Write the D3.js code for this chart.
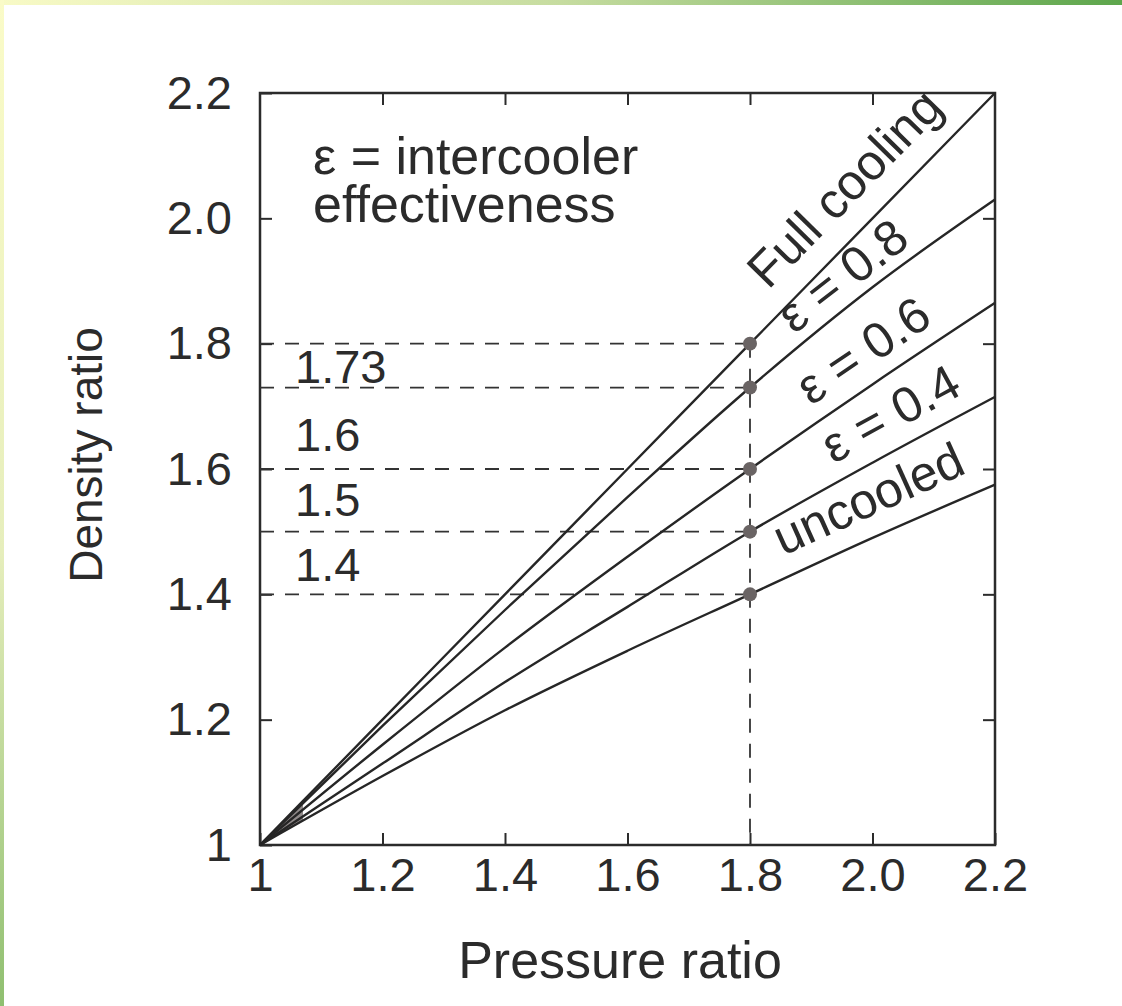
<!DOCTYPE html>
<html>
<head>
<meta charset="utf-8">
<title>Density ratio vs pressure ratio</title>
<script src="https://d3js.org/d3.v7.min.js"></script>
<style>
  html, body { margin: 0; padding: 0; background: #fff; }
  svg { display: block; }
  text { font-family: "Liberation Sans", Arial, Helvetica, sans-serif; fill: #2b2b2b; }
</style>
</head>
<body>
<div id="chart"></div>
<script>
// ---- data ----
const pressure    = [1, 1.2, 1.4, 1.6, 1.8, 2.0, 2.2];
const fullCooling = [1, 1.2, 1.4, 1.6, 1.8, 2.0, 2.2];
const eps08       = [1, 1.19, 1.375, 1.555, 1.73, 1.89, 2.03];
const eps06       = [1, 1.16, 1.315, 1.46, 1.6, 1.735, 1.865];
const eps04       = [1, 1.13, 1.26, 1.38, 1.5, 1.61, 1.715];
const uncooled    = [1, 1.11, 1.215, 1.31, 1.4, 1.49, 1.575];
const seriesNames = ["Full cooling", "\u03b5 = 0.8", "\u03b5 = 0.6", "\u03b5 = 0.4", "uncooled"];

const markPressure = 1.8;
const markValues   = [1.8, 1.73, 1.6, 1.5, 1.4];
const markLabels   = ["", "1.73", "1.6", "1.5", "1.4"];

const xTicks = [1, 1.2, 1.4, 1.6, 1.8, 2.0, 2.2];
const xTickLabels = ["1", "1.2", "1.4", "1.6", "1.8", "2.0", "2.2"];
const yTicks = [1, 1.2, 1.4, 1.6, 1.8, 2.0, 2.2];
const yTickLabels = ["1", "1.2", "1.4", "1.6", "1.8", "2.0", "2.2"];
const noteLines = ["\u03b5 = intercooler", "effectiveness"];

// ---- layout ----
const W = 1122, H = 1006;
const pl = 260, pr = 995, pt = 93, pb = 845;
// where each curve label starts (pressure) and how far above its line
const labelPos = [
  { p: 1.858, off: 24 },
  { p: 1.885, off: 13 },
  { p: 1.915, off: 17 },
  { p: 1.95,  off: 18 },
  { p: 1.868, off: 21 }
];
// vertical shift of the value labels above their dashed line
const valShift = [0, -5, -18, -16, -13];

const svg = d3.select("#chart").append("svg")
    .attr("width", W)
    .attr("height", H);

// green slide frame (top and left edge)
const defs = svg.append("defs");
const gTop = defs.append("linearGradient").attr("id", "gtop")
    .attr("x1", 0).attr("x2", 1).attr("y1", 0).attr("y2", 0);
gTop.append("stop").attr("offset", "0%").attr("stop-color", "#f8fac6");
gTop.append("stop").attr("offset", "50%").attr("stop-color", "#c6dca0");
gTop.append("stop").attr("offset", "100%").attr("stop-color", "#5da64c");
const gLeft = defs.append("linearGradient").attr("id", "gleft")
    .attr("x1", 0).attr("x2", 0).attr("y1", 0).attr("y2", 1);
gLeft.append("stop").attr("offset", "0%").attr("stop-color", "#fafbc8");
gLeft.append("stop").attr("offset", "55%").attr("stop-color", "#e6eebc");
gLeft.append("stop").attr("offset", "100%").attr("stop-color", "#8fbf70");

svg.append("rect").attr("x", 0).attr("y", 0).attr("width", W).attr("height", 5).attr("fill", "url(#gtop)");
svg.append("rect").attr("x", 0).attr("y", 0).attr("width", 4).attr("height", H).attr("fill", "url(#gleft)");

const x = d3.scaleLinear().domain([1, 2.2]).range([pl, pr]);
const y = d3.scaleLinear().domain([1, 2.2]).range([pb, pt]);

// axes with inward ticks
function styleAxis(g) {
  g.select(".domain").remove();
  g.selectAll(".tick line").attr("stroke", "#2b2b2b").attr("stroke-width", 2);
  g.selectAll(".tick text").attr("fill", "#2b2b2b").style("font-size", "47px")
    .style("font-family", "'Liberation Sans', Arial, sans-serif");
}
const innerX = xTicks.slice(1, -1), innerY = yTicks.slice(1, -1);

svg.append("g").attr("transform", "translate(0," + pb + ")")
  .call(d3.axisBottom(x).tickValues(xTicks).tickSize(-12).tickPadding(13)
    .tickFormat((d, i) => xTickLabels[i]))
  .call(styleAxis);
svg.append("g").attr("transform", "translate(" + pl + ",0)")
  .call(d3.axisLeft(y).tickValues(yTicks).tickSize(-12).tickPadding(28)
    .tickFormat((d, i) => yTickLabels[i]))
  .call(styleAxis);
svg.append("g").attr("transform", "translate(0," + pt + ")")
  .call(d3.axisTop(x).tickValues(innerX).tickSize(-12).tickFormat(""))
  .call(styleAxis);
svg.append("g").attr("transform", "translate(" + pr + ",0)")
  .call(d3.axisRight(y).tickValues(innerY).tickSize(-12).tickFormat(""))
  .call(styleAxis);

// frame
svg.append("rect")
  .attr("x", pl).attr("y", pt)
  .attr("width", pr - pl).attr("height", pb - pt)
  .attr("fill", "none").attr("stroke", "#2b2b2b").attr("stroke-width", 2.5);

// dashed reference lines at pressure 1.8
svg.selectAll("line.hdash").data(markValues).enter()
  .append("line").attr("class", "hdash")
  .attr("x1", x(1)).attr("x2", x(markPressure))
  .attr("y1", d => y(d)).attr("y2", d => y(d))
  .attr("stroke", "#333").attr("stroke-width", 1.8)
  .attr("stroke-dasharray", "14,11");
svg.append("line")
  .attr("x1", x(markPressure)).attr("x2", x(markPressure))
  .attr("y1", y(markValues[0])).attr("y2", y(1))
  .attr("stroke", "#333").attr("stroke-width", 1.8)
  .attr("stroke-dasharray", "14,11");

// curves
const series = [fullCooling, eps08, eps06, eps04, uncooled];
const line = d3.line()
  .x((d, i) => x(pressure[i]))
  .y(d => y(d))
  .curve(d3.curveMonotoneX);

// grey smudge where the curves meet at the origin
defs.append("clipPath").attr("id", "origin-clip")
  .append("rect").attr("x", pl).attr("y", pt)
  .attr("width", x(1.07) - pl).attr("height", pb - pt);
const fan = d3.area()
  .x((d, i) => x(pressure[i]))
  .y0((d, i) => y(uncooled[i]))
  .y1(d => y(d))
  .curve(d3.curveMonotoneX);
svg.append("path")
  .attr("d", fan(fullCooling))
  .attr("clip-path", "url(#origin-clip)")
  .attr("fill", "#7d7575")
  .attr("opacity", 0.85);

svg.selectAll("path.curve").data(series).enter()
  .append("path").attr("class", "curve")
  .attr("d", d => line(d))
  .attr("fill", "none")
  .attr("stroke", "#262626")
  .attr("stroke-width", 2.4);

// dots where the curves cross 1.8
svg.selectAll("circle.mark").data(markValues).enter()
  .append("circle").attr("class", "mark")
  .attr("cx", x(markPressure)).attr("cy", d => y(d))
  .attr("r", 7)
  .attr("fill", "#6a6464");

// value labels next to the dashed lines
svg.selectAll("text.val").data(markValues.slice(1)).enter()
  .append("text").attr("class", "val")
  .attr("x", 295)
  .attr("y", (d, i) => y(d) + valShift[i + 1])
  .style("font-size", "47px")
  .text((d, i) => markLabels[i + 1]);

// curve labels, rotated along each line
function valueAt(s, p) {
  return d3.scaleLinear().domain(pressure).range(s)(p);
}
series.forEach((s, i) => {
  const lp = labelPos[i];
  const p1 = Math.min(lp.p + 0.2, 2.2);
  const x0 = x(lp.p), y0 = y(valueAt(s, lp.p));
  const x1 = x(p1), y1 = y(valueAt(s, p1));
  const ang = Math.atan2(y1 - y0, x1 - x0) * 180 / Math.PI;
  svg.append("text")
    .attr("transform", "translate(" + x0 + "," + y0 + ") rotate(" + ang + ")")
    .attr("y", -lp.off)
    .style("font-size", "50px")
    .text(seriesNames[i]);
});

// note (one text block, two lines)
const note = svg.append("text").attr("x", 313).attr("y", 174).style("font-size", "52px");
note.selectAll("tspan").data(noteLines).enter()
  .append("tspan")
  .attr("x", 313)
  .attr("dy", (d, i) => i === 0 ? 0 : 48)
  .text(d => d);

// axis titles
svg.append("text")
  .attr("x", 620).attr("y", 978)
  .attr("text-anchor", "middle")
  .style("font-size", "52px")
  .text("Pressure ratio");
svg.append("text")
  .attr("transform", "translate(102," + 455 + ") rotate(-90)")
  .attr("text-anchor", "middle")
  .style("font-size", "46px")
  .text("Density ratio");
</script>
</body>
</html>
